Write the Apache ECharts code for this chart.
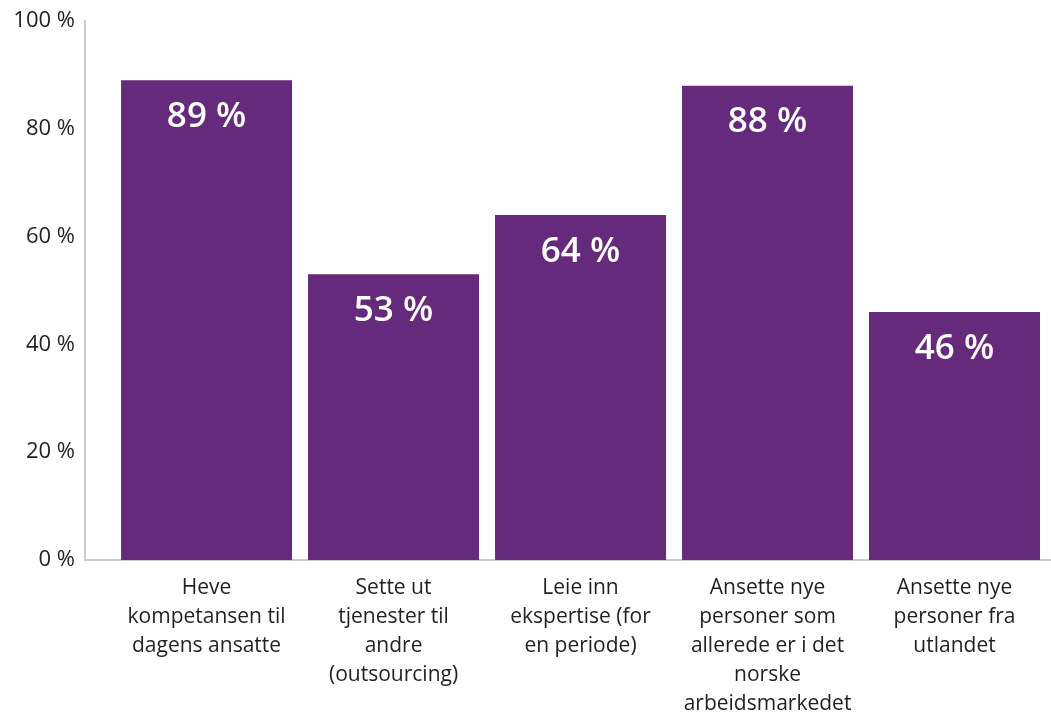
<!DOCTYPE html>
<html>
<head>
<meta charset="utf-8">
<script src="https://cdn.jsdelivr.net/npm/echarts@6/dist/echarts.min.js"></script>
<style>
  html, body { margin: 0; padding: 0; background: #fff; }
  #chart { width: 1051px; height: 715px; }
</style>
</head>
<body>
<div id="chart"></div>
<script>
    // kategorier (linjeskift som i originalen)
    var categories = [
        'Heve\nkompetansen til\ndagens ansatte',
        'Sette ut\ntjenester til\nandre\n(outsourcing)',
        'Leie inn\nekspertise (for\nen periode)',
        'Ansette nye\npersoner som\nallerede er i det\nnorske\narbeidsmarkedet',
        'Ansette nye\npersoner fra\nutlandet'
    ];
    var values = [89, 53, 64, 88, 46]; // prosent
    var yTicks = [0, 20, 40, 60, 80, 100];

    var barData = [];
    for (var i = 0; i < values.length; i++) {
        barData.push([i, values[i]]);
    }
    var catPos = [];
    for (var j = 0; j < categories.length; j++) {
        catPos.push(j);
    }

    var chart = echarts.init(document.getElementById('chart'));
    var fontFam = '"Open Sans", "Noto Sans", sans-serif';

    chart.setOption({
        animation: false,
        textStyle: { fontFamily: fontFam },
        grid: {
            left: 85,
            right: 0,
            top: 21,
            bottom: 155,
            containLabel: false,
            outerBoundsMode: 'none'
        },
        xAxis: {
            type: 'value',
            min: -0.65,
            max: 4.516,
            splitLine: { show: false },
            axisTick: { show: false },
            axisLine: { show: true, onZero: false, lineStyle: { color: '#cfccc6', width: 2 } },
            axisLabel: {
                customValues: catPos,
                margin: 14,
                color: '#231f20',
                fontSize: 21,
                lineHeight: 29,
                fontFamily: fontFam,
                formatter: function (v) {
                    return categories[Math.round(v)] || '';
                }
            }
        },
        yAxis: {
            type: 'value',
            min: 0,
            max: 100,
            interval: 20,
            splitLine: { show: false },
            axisTick: { show: false },
            axisLine: { show: true, onZero: false, lineStyle: { color: '#cfccc6', width: 2 } },
            axisLabel: {
                customValues: yTicks,
                margin: 10,
                color: '#231f20',
                fontSize: 22,
                fontFamily: fontFam,
                formatter: '{value} %'
            }
        },
        series: [
            {
                type: 'bar',
                data: barData,
                barWidth: 171,
                itemStyle: { color: '#652a7b' },
                label: {
                    show: true,
                    position: 'insideTop',
                    distance: 19,
                    color: '#ffffff',
                    fontSize: 35,
                    fontWeight: 600,
                    fontFamily: fontFam,
                    formatter: function (p) {
                        return p.value[1] + ' %';
                    }
                }
            }
        ]
    });
</script>
</body>
</html>
